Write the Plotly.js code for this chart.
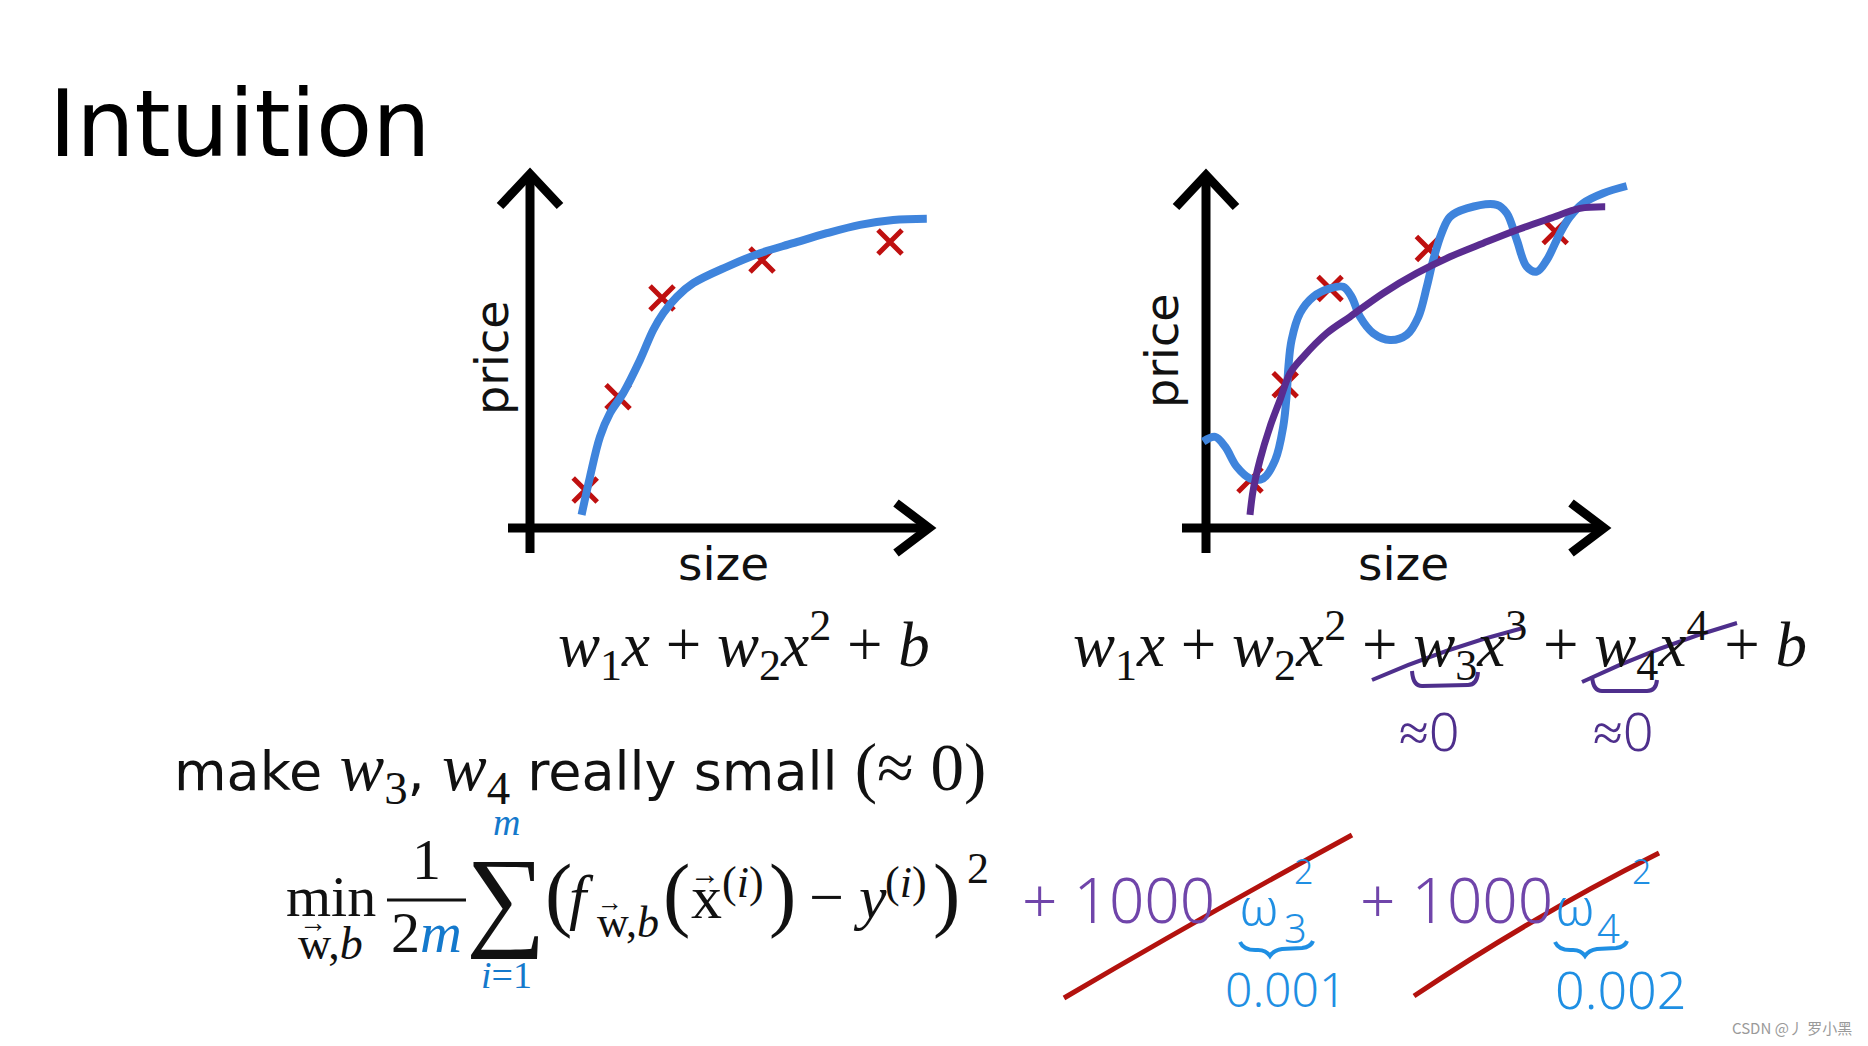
<!DOCTYPE html>
<html>
<head>
<meta charset="utf-8">
<script src="https://cdn.plot.ly/plotly-3.0.1.min.js"></script>
<style>
html,body{margin:0;padding:0;background:#fff;}
#chart{width:1868px;height:1046px;}
</style>
</head>
<body>
<div id="chart"></div>
<script>
// ---------- data ----------
// left panel: data points and quadratic-like fit
const leftPointsX = [1.38, 2.2, 3.3, 5.8, 9.0];
const leftPointsY = [0.95, 3.28, 5.75, 6.7, 7.15];
const leftFitX = [1.29, 1.5, 1.75, 2.0, 2.33, 2.75, 3.08, 3.33, 3.67, 4.08, 4.92, 5.75, 6.58, 7.42, 8.25, 9.08, 9.92];
const leftFitY = [0.33, 1.28, 2.28, 2.87, 3.37, 4.2, 4.95, 5.37, 5.78, 6.12, 6.53, 6.87, 7.12, 7.37, 7.58, 7.7, 7.73];

// right panel: data points, overfit wiggle, regularised fit
const rightPointsX = [1.1, 1.98, 3.1, 5.56, 8.73];
const rightPointsY = [1.2, 3.58, 5.99, 6.99, 7.41];
const wiggleX = [-0.07, 0.23, 0.48, 0.77, 1.1, 1.43, 1.73, 1.93, 2.02, 2.06, 2.14, 2.35, 2.68, 3.1, 3.43, 3.64, 3.85, 4.18, 4.6, 5.02, 5.31, 5.52, 5.68, 5.89, 6.1, 6.52, 7.27, 7.52, 7.77, 8.02, 8.27, 8.52, 8.85, 9.1, 9.43, 9.93, 10.52];
const wiggleY = [2.16, 2.28, 2.03, 1.53, 1.24, 1.24, 1.7, 2.53, 3.37, 4.03, 4.7, 5.37, 5.78, 5.99, 6.03, 5.78, 5.28, 4.87, 4.7, 4.83, 5.28, 6.03, 6.7, 7.37, 7.78, 7.99, 8.08, 7.87, 7.2, 6.53, 6.41, 6.7, 7.37, 7.78, 8.12, 8.37, 8.55];
const smoothX = [1.1, 1.18, 1.35, 1.6, 1.85, 2.1, 2.43, 3.02, 3.6, 4.43, 5.27, 6.1, 6.93, 7.77, 8.6, 9.35, 9.98];
const smoothY = [0.33, 0.95, 1.7, 2.53, 3.2, 3.87, 4.28, 4.87, 5.28, 5.87, 6.37, 6.78, 7.12, 7.45, 7.74, 7.99, 8.03];

// texts
const titleText = 'Intuition';
const xLabel = 'size';
const yLabel = 'price';
const leftFormula = '<i>w</i><sub>1</sub><i>x</i> + <i>w</i><sub>2</sub><i>x</i><sup>2</sup> + <i>b</i>';
const rightFormula = '<i>w</i><sub>1</sub><i>x</i> + <i>w</i><sub>2</sub><i>x</i><sup>2</sup> + <i>w</i><sub>3</sub><i>x</i><sup>3</sup> + <i>w</i><sub>4</sub><i>x</i><sup>4</sup> + <i>b</i>';
const penaltyCoef = '+ 1000';
const penaltyVals = ['0.001', '0.002'];
const watermark = 'CSDN @丿 罗小黑';

// ---------- helpers ----------
const W = 1868, H = 1046;
const SANS = 'DejaVu Sans', SERIF = 'Liberation Serif', HAND = 'Noto Sans';
const BLUE = '#3f84dc', RED = '#bf1010', PURPLE = '#5a2c90';
const MBLUE = '#1479cc', HBLUE = '#1f8fe3', HPURPLE = '#7045aa', DPURPLE = '#4e2f8c';
const fx = x => x / W, fy = y => 1 - y / H;
const pp = d => d.replace(/(-?[\d.]+),(-?[\d.]+)/g, (m, a, b) => fx(+a).toFixed(5) + ',' + fy(+b).toFixed(5));
function ann(text, x, y, size, opts) {
  opts = opts || {};
  const font = {family: opts.family || SANS, size: size, color: opts.color || '#111'};
  if (opts.weight) font.weight = opts.weight;
  return {
    text: text, x: fx(x), y: fy(y), xref: 'paper', yref: 'paper', showarrow: false,
    xanchor: opts.xanchor || 'center', yanchor: 'middle', borderpad: 0,
    font: font, textangle: opts.angle || 0
  };
}
function stroke(d, color, width, layer) {
  return {type: 'path', xref: 'paper', yref: 'paper', path: pp(d), line: {color: color, width: width}, layer: layer || 'above'};
}
const S = SERIF;
const L = {xanchor: 'left', family: S};
const mathSpan = t => '<span style="font-family:Liberation Serif;font-size:67px">' + t + '</span>';

// ---------- traces ----------
const pointMarker = {symbol: 'x-thin', size: 24, color: RED, line: {color: RED, width: 5}};
const traces = [
  {x: leftPointsX, y: leftPointsY, xaxis: 'x', yaxis: 'y', mode: 'markers', type: 'scatter', marker: pointMarker, cliponaxis: false},
  {x: leftFitX, y: leftFitY, xaxis: 'x', yaxis: 'y', mode: 'lines', type: 'scatter', line: {color: BLUE, width: 8, shape: 'spline', smoothing: 1}},
  {x: rightPointsX, y: rightPointsY, xaxis: 'x2', yaxis: 'y2', mode: 'markers', type: 'scatter', marker: pointMarker, cliponaxis: false},
  {x: wiggleX, y: wiggleY, xaxis: 'x2', yaxis: 'y2', mode: 'lines', type: 'scatter', line: {color: BLUE, width: 8, shape: 'spline', smoothing: 1}},
  {x: smoothX, y: smoothY, xaxis: 'x2', yaxis: 'y2', mode: 'lines', type: 'scatter', line: {color: PURPLE, width: 7, shape: 'spline', smoothing: 1}}
];

const hid = {showgrid: false, zeroline: false, showticklabels: false, showline: false, ticks: '', fixedrange: true};
// domains chosen so that 1 data unit = 40 px
const layout = {
  width: W, height: H, margin: {l: 0, r: 0, t: 0, b: 0},
  paper_bgcolor: '#fff', plot_bgcolor: 'rgba(0,0,0,0)', showlegend: false,
  xaxis: Object.assign({domain: [490 / W, 970 / W], range: [-1, 11]}, hid),
  yaxis: Object.assign({domain: [fy(570), fy(150)], range: [-1.05, 9.45]}, hid),
  xaxis2: Object.assign({domain: [1166 / W, 1646 / W], range: [-1, 11]}, hid),
  yaxis2: Object.assign({domain: [fy(570), fy(150)], range: [-1.05, 9.45]}, hid),
  shapes: [
    // axes with open arrow heads
    stroke('M530,553 L530,174', '#000', 9, 'below'),
    stroke('M508,528 L928,528', '#000', 9, 'below'),
    stroke('M500,206 L530,174 L560,206', '#000', 9, 'below'),
    stroke('M896,503 L929,528 L896,553', '#000', 9, 'below'),
    stroke('M1206,553 L1206,175', '#000', 9, 'below'),
    stroke('M1182,528 L1603,528', '#000', 9, 'below'),
    stroke('M1176,207 L1206,175 L1236,207', '#000', 9, 'below'),
    stroke('M1571,503 L1604,528 L1571,553', '#000', 9, 'below'),
    // fraction bar
    stroke('M387,900 L466,900', '#111', 3),
    // purple strikes and braces on the right formula
    stroke('M1372,680 Q1445,648 1523,628', DPURPLE, 4),
    stroke('M1582,682 Q1660,645 1737,623', DPURPLE, 4),
    stroke('M1412,671 Q1413,686 1422,686 L1468,685 Q1477,685 1478,672', DPURPLE, 4),
    stroke('M1592,676 Q1593,691 1602,691 L1647,691 Q1656,691 1657,680', DPURPLE, 4),
    // blue braces under handwritten w
    stroke('M1240,942 Q1244,951 1258,950 Q1266,950 1270,956 Q1274,950 1282,949 L1302,948 Q1311,947 1313,941', HBLUE, 4),
    stroke('M1555,942 Q1559,951 1573,950 Q1581,950 1585,956 Q1589,950 1597,949 L1616,948 Q1625,947 1627,941', HBLUE, 4),
    // red strike-through of the penalty terms
    stroke('M1064,998 Q1205,915 1352,835', '#b3120e', 5),
    stroke('M1414,996 Q1535,915 1659,853', '#b3120e', 5)
  ],
  annotations: [
    ann(titleText, 48, 124, 92, {xanchor: 'left', color: '#000'}),
    ann(yLabel, 492, 358, 46, {angle: -90}),
    ann(xLabel, 723, 563, 47),
    ann(yLabel, 1162, 351, 46, {angle: -90}),
    ann(xLabel, 1403, 563, 47),
    ann(leftFormula, 744, 645, 63, {family: S}),
    ann(rightFormula, 1440, 645, 63, {family: S}),
    ann('≈0', 1429, 730, 54, {family: HAND, color: DPURPLE, weight: 300}),
    ann('≈0', 1623, 730, 54, {family: HAND, color: DPURPLE, weight: 300}),
    ann('make ' + mathSpan('<i>w</i><sub>3</sub>') + ', ' + mathSpan('<i>w</i><sub>4</sub>') + ' really small ' + mathSpan('(≈ 0)'), 173, 772, 54, {xanchor: 'left'}),
    // regularised cost function
    ann('min', 331, 896, 58, {family: S}),
    ann('w,<i>b</i>', 297, 943, 46, L),
    ann('→', 313, 922, 28, {family: S}),
    ann('1', 426, 859, 58, {family: S}),
    ann('2<span style="color:' + MBLUE + '"><i>m</i></span>', 426, 932, 58, {family: S}),
    ann('∑', 506, 897, 112, {family: S}),
    ann('<i>m</i>', 506, 822, 38, {family: S, color: MBLUE}),
    ann('<i>i</i>=1', 506, 975, 38, {family: S, color: MBLUE}),
    ann('(', 544, 893, 82, L),
    ann('<i>f</i>', 568, 897, 62, L),
    ann('w,<i>b</i>', 596, 922, 44, L),
    ann('→', 610, 902, 26, {family: S}),
    ann('(', 662, 893, 82, L),
    ann('x', 690, 897, 62, L),
    ann('→', 705, 873, 30, {family: S}),
    ann('(<i>i</i>)', 721, 882, 44, L),
    ann(')', 768, 893, 82, L),
    ann('−', 826, 897, 62, {family: S}),
    ann('<i>y</i>', 852, 897, 62, L),
    ann('(<i>i</i>)', 884, 882, 44, L),
    ann(')', 932, 893, 82, L),
    ann('2', 966, 868, 44, L),
    // handwritten penalty terms
    ann(penaltyCoef, 1118, 899, 62, {family: HAND, color: HPURPLE, weight: 300}),
    ann('ω', 1259, 904, 52, {family: HAND, color: HBLUE, weight: 300}),
    ann('2', 1303, 871, 34, {family: HAND, color: HBLUE, weight: 300}),
    ann('3', 1295, 927, 40, {family: HAND, color: HBLUE, weight: 300}),
    ann(penaltyVals[0], 1285, 988, 48, {family: HAND, color: HBLUE, weight: 300}),
    ann(penaltyCoef, 1456, 899, 62, {family: HAND, color: HPURPLE, weight: 300}),
    ann('ω', 1575, 904, 52, {family: HAND, color: HBLUE, weight: 300}),
    ann('2', 1641, 871, 34, {family: HAND, color: HBLUE, weight: 300}),
    ann('4', 1608, 927, 40, {family: HAND, color: HBLUE, weight: 300}),
    ann(penaltyVals[1], 1620, 988, 52, {family: HAND, color: HBLUE, weight: 300}),
    ann(watermark, 1853, 1027, 15, {family: 'Noto Sans CJK SC', color: '#9a9a9a', xanchor: 'right'})
  ]
};

Plotly.newPlot('chart', traces, layout, {staticPlot: true, displayModeBar: false});
</script>
</body>
</html>
